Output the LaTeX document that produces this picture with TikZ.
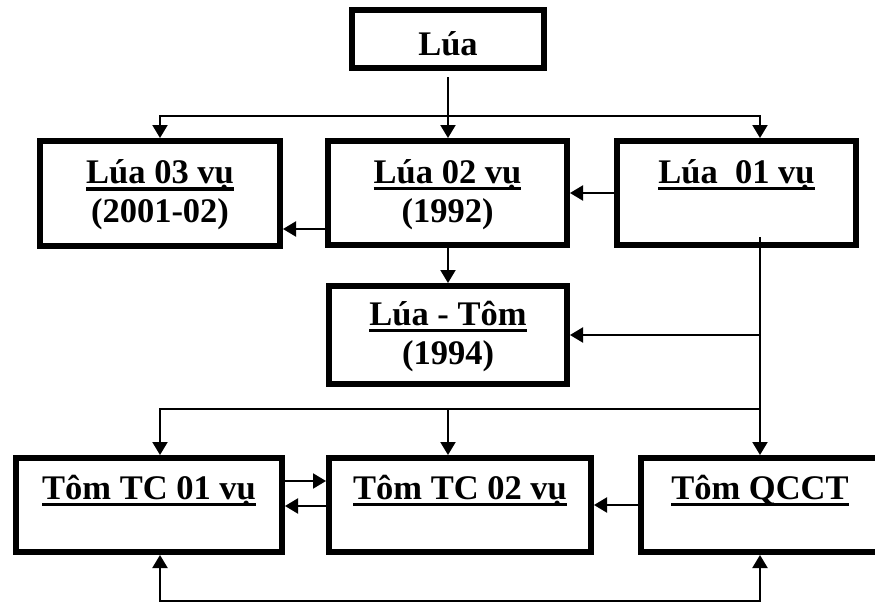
\documentclass[tikz,border=0pt]{standalone}
\usepackage{fontspec}
\setmainfont{Liberation Serif}
\usetikzlibrary{arrows.meta}
\newcommand\myul[1]{\setbox0\hbox{#1}\rlap{\rule[-7pt]{\wd0}{3.5pt}}\box0}
\newcommand\tstrut{\rule[-8pt]{0pt}{35pt}}
\begin{document}
\begin{tikzpicture}[x=1pt,y=-1pt,
  box/.style={draw, line width=6pt, rectangle, inner sep=0pt, align=center,
    font=\fontsize{34.5}{39}\selectfont\bfseries},
  tip/.tip={Triangle[length=13pt,width=15pt]},
  arr/.style={line width=2pt, -tip},
  dblarr/.style={line width=2pt, tip-tip}]
\useasboundingbox (0,0) rectangle (875,602);

\node[box, minimum width=192pt, minimum height=58pt] (lua) at (448,39) {\rule{0pt}{34pt}Lúa};
\node[box, minimum width=240pt, minimum height=105pt] (lua03) at (160,193.5)
  {\tstrut\myul{Lúa 03 vụ}\\\tstrut(2001-02)};
\node[box, minimum width=239pt, minimum height=104pt] (lua02) at (447.5,193)
  {\tstrut\myul{Lúa 02 vụ}\\\tstrut(1992)};
\node[box, minimum width=239pt, minimum height=104pt] (lua01) at (736.5,193)
  {\tstrut\myul{Lúa\ \ 01 vụ}\\\tstrut};
\node[box, minimum width=238pt, minimum height=98pt] (luatom) at (448,335)
  {\tstrut\myul{Lúa - Tôm}\\\tstrut(1994)};
\node[box, minimum width=266pt, minimum height=94pt] (tc01) at (149,505)
  {\tstrut\myul{Tôm TC 01 vụ}\\\mbox{}};
\node[box, minimum width=262pt, minimum height=94pt] (tc02) at (460,505)
  {\tstrut\myul{Tôm TC 02 vụ}\\\mbox{}};
\node[box, minimum width=238pt, minimum height=94pt] (qcct) at (760,505)
  {\tstrut\myul{Tôm QCCT}\\\mbox{}};

% from Lua
\draw[arr, shorten <=6pt] (lua.south) -- (lua.south |- lua02.north);
\coordinate (top) at (lua.south |- 0,116);
\draw[arr] (top) -| (lua03.north);
\draw[arr] (top) -| (qcct.north |- lua01.north);
% second row
\draw[arr] (lua01.west) -- (lua02.east);
\draw[arr] (lua02.west |- 0,229) -- (lua03.east |- 0,229);
\draw[arr] (lua02.south -| lua.south) -- (luatom.north -| lua.south);
% from Lua 01 vu down
\coordinate (c01) at (qcct.north |- 0,237);
\draw[arr] (c01) -- (qcct.north);
\draw[arr] (qcct.north |- luatom.east) -- (luatom.east);
\coordinate (mid) at (qcct.north |- 0,409);
\draw[arr] (mid) -| (tc01.north -| lua03.north);
\draw[arr] (lua.south |- mid) -- (tc02.north -| lua.south);
% bottom row
\draw[arr] (tc01.east |- 0,481) -- (tc02.west |- 0,481);
\draw[arr] (tc02.west |- 0,506) -- (tc01.east |- 0,506);
\draw[arr] (qcct.west) -- (tc02.east);
\coordinate (bl) at (lua03.north |- 0,601);
\coordinate (br) at (qcct.south |- 0,601);
\draw[dblarr] (tc01.south -| bl) -- (bl) -- (br) -- (qcct.south);
\end{tikzpicture}
\end{document}
